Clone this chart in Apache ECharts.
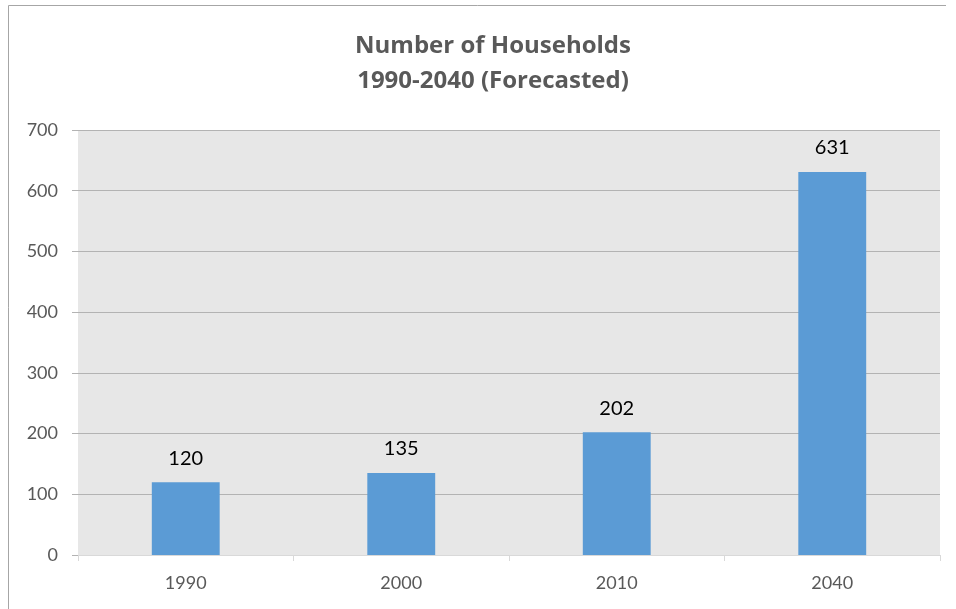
<!DOCTYPE html>
<html><head><meta charset="utf-8">
<script src="https://cdn.jsdelivr.net/npm/echarts@6/dist/echarts.min.js"></script>
<style>html,body{margin:0;padding:0;background:#fff}#c{width:956px;height:609px}</style>
</head><body><div id="c"></div>
<script>
const categories = ['1990', '2000', '2010', '2040'];
const households = [120, 135, 202, 631];
const yTicks = [0, 100, 200, 300, 400, 500, 600, 700];
const titleLines = ['Number of Households', '1990-2040 (Forecasted)'];

const chart = echarts.init(document.getElementById('c'), null, {renderer: 'canvas'});
chart.setOption({
  animation: false,
  backgroundColor: '#fff',
  title: {
    text: titleLines.join('\n'),
    left: 488, top: 24, textAlign: 'center',
    textStyle: {fontFamily: 'Open Sans', fontWeight: 'bold', fontSize: 24, color: '#595959', lineHeight: 35}
  },
  graphic: [
    {type: 'line', shape: {x1: 8.5, y1: 5.5, x2: 8.5, y2: 609}, style: {stroke: '#a6a6a6', lineWidth: 1}},
    {type: 'line', shape: {x1: 8.5, y1: 5.5, x2: 946, y2: 5.5}, style: {stroke: '#a6a6a6', lineWidth: 1}}
  ],
  grid: {left: 78, right: 16, top: 130, bottom: 54, show: true, backgroundColor: '#e7e7e7', borderWidth: 0},
  xAxis: {
    type: 'category', data: categories,
    axisLine: {lineStyle: {color: '#d9d9d9', width: 1}},
    axisTick: {show: true, length: 6, lineStyle: {color: '#d9d9d9'}},
    axisLabel: {color: '#595959', fontFamily: 'Lato', fontSize: 18, margin: 19}
  },
  yAxis: {
    type: 'value', min: yTicks[0], max: yTicks[yTicks.length - 1], interval: 100,
    axisLine: {show: false},
    axisTick: {show: true, length: 6, lineStyle: {color: '#b3b3b3'}},
    splitLine: {lineStyle: {color: '#b3b3b3', width: 1}},
    axisLabel: {color: '#595959', fontFamily: 'Lato', fontSize: 18, margin: 20}
  },
  series: [{
    type: 'bar', data: households, barWidth: '31.5%',
    itemStyle: {color: '#5b9bd5'},
    label: {show: true, position: 'top', distance: 14, color: '#000', fontFamily: 'Lato', fontSize: 20}
  }]
});
</script></body></html>
